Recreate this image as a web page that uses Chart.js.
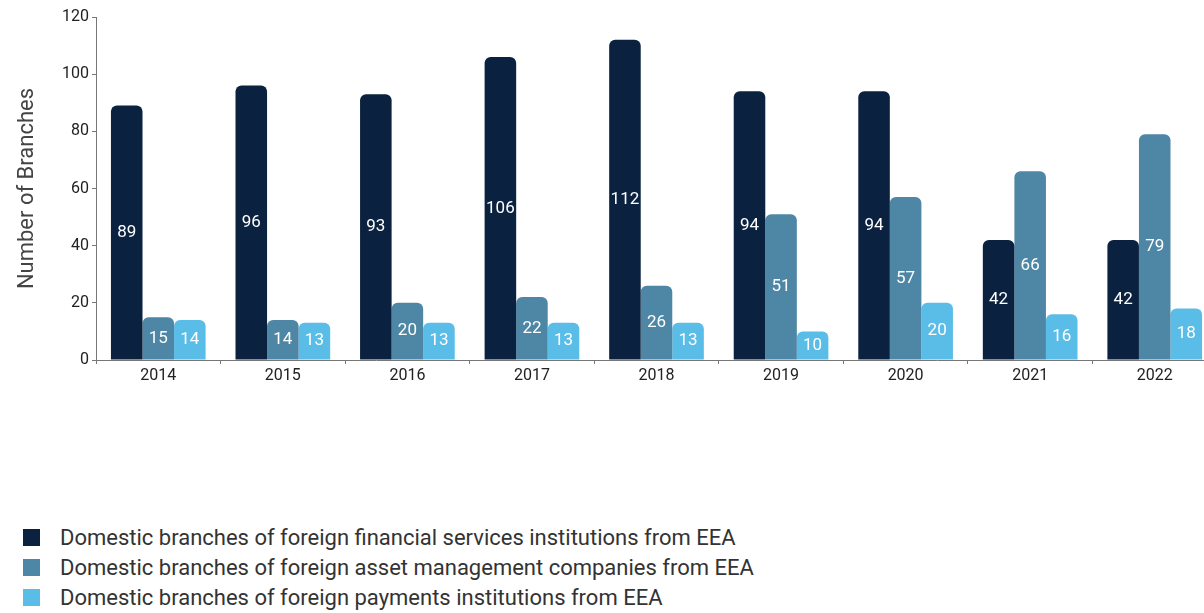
<!DOCTYPE html>
<html><head><meta charset="utf-8">
<script src="https://cdn.jsdelivr.net/npm/chart.js@4/dist/chart.umd.min.js"></script>
<style>
html,body{margin:0;padding:0;background:#fff;overflow:hidden;width:1204px;height:613px;}
#wrap{position:absolute;left:0;top:0;width:1218px;height:400px;}
#legend{position:absolute;left:23px;top:522px;font-family:Roboto,"Noto Sans",sans-serif;font-size:22px;color:#333;}
.li{display:flex;align-items:center;height:30px;}
.bx{width:17px;height:17px;margin-right:20px;flex:none;}
</style></head>
<body>
<div id="wrap"><canvas id="c" width="1218" height="400"></canvas></div>
<div id="legend"></div>
<script>
const categories = ["2014","2015","2016","2017","2018","2019","2020","2021","2022"];
const financialServices = [89,96,93,106,112,94,94,42,42];
const assetManagement = [15,14,20,22,26,51,57,66,79];
const paymentsInstitutions = [14,13,13,13,13,10,20,16,18];
const seriesNames = [
  "Domestic branches of foreign financial services institutions from EEA",
  "Domestic branches of foreign asset management companies from EEA",
  "Domestic branches of foreign payments institutions from EEA"
];
const yTicks = [0,20,40,60,80,100,120];
const colors = ["#0a2240","#4e87a5","#59bde8"];
const FONT = 'Roboto, "Noto Sans", sans-serif';

const barLabels = {
  id:'barLabels',
  afterDatasetsDraw(chart){
    const ctx = chart.ctx;
    ctx.save();
    ctx.fillStyle = '#ffffff';
    ctx.font = '17px ' + FONT;
    ctx.textAlign = 'center';
    ctx.textBaseline = 'middle';
    chart.data.datasets.forEach((ds,i)=>{
      chart.getDatasetMeta(i).data.forEach((bar,j)=>{
        const p = bar.getProps(['x','y','base'],true);
        ctx.fillText(String(ds.data[j]), p.x, (p.y+p.base)/2);
      });
    });
    ctx.restore();
  }
};

const datasets = [financialServices, assetManagement, paymentsInstitutions].map((d,i)=>({
  label: seriesNames[i],
  data: d,
  backgroundColor: colors[i],
  borderRadius: {topLeft:6, topRight:6, bottomLeft:0, bottomRight:0},
  borderSkipped: 'bottom',
  categoryPercentage: 0.76,
  barPercentage: 1.0
}));

new Chart(document.getElementById('c'), {
  type: 'bar',
  data: { labels: categories, datasets },
  options: {
    responsive: false,
    animation: false,
    layout: { padding: { top: 17, right: 1, left: 0, bottom: 0 } },
    plugins: { legend: { display: false }, tooltip: { enabled: false } },
    scales: {
      x: {
        grid: { display: true, drawOnChartArea: false, drawTicks: true, tickLength: 4, color: '#777', offset: true },
        border: { display: true, color: '#777', width: 1 },
        ticks: { color: '#222', font: { family: FONT, size: 16 }, padding: 2, maxRotation: 0 },
        afterFit: s => { s.height = 40; }
      },
      y: {
        min: 0, max: 120,
        afterBuildTicks: s => { s.ticks = yTicks.map(v => ({ value: v })); },
        grid: { display: true, drawOnChartArea: false, drawTicks: true, tickLength: 4, color: '#777' },
        border: { display: true, color: '#777', width: 1 },
        ticks: { color: '#222', font: { family: FONT, size: 16 }, padding: 3 },
        title: { display: true, text: 'Number of Branches', color: '#444', font: { family: FONT, size: 22 }, padding: { top: 14, bottom: 0 } },
        afterFit: s => { s.width = 96; }
      }
    }
  },
  plugins: [barLabels]
});

const lg = document.getElementById('legend');
seriesNames.forEach((n,i)=>{
  const row = document.createElement('div'); row.className='li';
  const b = document.createElement('span'); b.className='bx'; b.style.background = colors[i];
  const t = document.createElement('span'); t.textContent = n;
  row.appendChild(b); row.appendChild(t); lg.appendChild(row);
});
</script>
</body></html>
